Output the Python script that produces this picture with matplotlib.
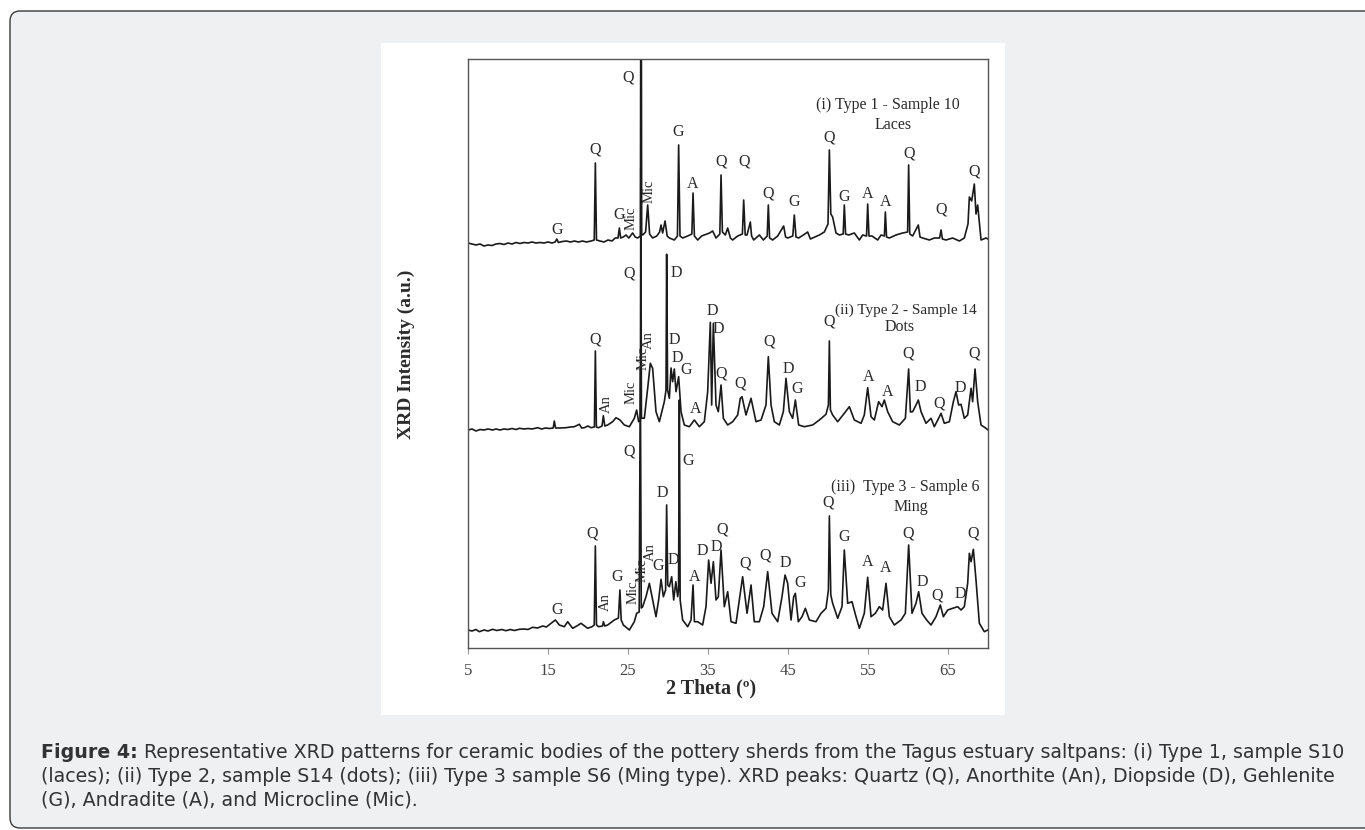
import matplotlib
matplotlib.use("Agg")
import matplotlib.pyplot as plt
from matplotlib.patches import FancyBboxPatch, Rectangle

plt.rcParams["font.family"] = ["Liberation Serif", "DejaVu Serif"]

# ---- data (2 theta in degrees, intensity in a.u. above each baseline) ----
two_theta_1 = [5.0, 5.5, 6.0, 6.5, 7.0, 7.5, 8.0, 8.5, 9.0, 9.5, 10.0, 10.5, 11.0, 11.5, 12.0, 12.5,
               13.0, 13.5, 14.0, 14.5, 15.0, 15.5, 15.9, 16.1, 16.3, 16.8, 17.3, 17.8, 18.3, 18.8,
               19.3, 19.8, 20.4, 20.78, 20.92, 21.06, 21.5, 22.0, 22.5, 23.0, 23.4, 23.75, 23.92,
               24.08, 24.4, 24.75, 25.1, 25.58, 25.9, 26.21, 26.55, 26.63, 26.71, 26.83, 27.2, 27.46,
               27.7, 28.08, 28.6, 28.95, 29.13, 29.33, 29.63, 29.9, 30.17, 30.79, 31.18, 31.33, 31.5,
               31.83, 32.46, 32.98, 33.13, 33.3, 33.71, 34.2, 34.54, 35.2, 35.58, 36.0, 36.48, 36.63,
               36.8, 37.17, 37.46, 37.8, 38.08, 38.71, 39.3, 39.46, 39.65, 39.88, 40.29, 40.45, 40.71,
               41.42, 41.92, 42.4, 42.54, 42.7, 43.08, 43.71, 44.46, 44.7, 44.96, 45.6, 45.79, 46.0,
               46.33, 46.92, 47.46, 47.8, 48.08, 48.92, 49.54, 50.0, 50.17, 50.35, 50.58, 51.0, 51.42,
               51.9, 52.04, 52.2, 52.58, 53.29, 53.92, 54.33, 54.82, 54.96, 55.12, 55.5, 56.21, 56.63,
               57.05, 57.17, 57.32, 57.67, 58.5, 59.33, 59.95, 60.08, 60.22, 60.58, 61.29, 61.5, 61.83,
               62.67, 63.29, 63.95, 64.13, 64.3, 64.75, 65.58, 66.42, 67.04, 67.5, 67.67, 67.96, 68.29,
               68.5, 68.71, 69.13, 69.75, 70.0]
intensity_1 = [1, 0, -1, 0, -2, -1, -1.5, 0, 0.5, -0.5, 1, 0, 1.5, 0.5, 1.5, 1,
               2, 1, 1.5, 1, 2, 1, 2, 5, 1.5, 2.5, 3, 2, 3, 2,
               3, 2, 3, 4, 81, 4, 3, 2, 4, 3, 6, 6, 16,
               6, 7, 9, 6, 11, 7, 6, 8, 420, 10, 9, 12, 39,
               10, 6, 8, 12, 19, 11, 23, 8, 6, 4, 8, 99, 8,
               6, 8, 10, 51, 8, 4, 8, 9, 11, 13, 6, 10, 69,
               12, 9, 16, 6, 4, 8, 10, 44, 9, 9, 22, 8, 4,
               9, 4, 8, 39, 6, 4, 8, 18, 7, 6, 8, 29, 7,
               6, 9, 12, 5, 6, 9, 12, 20, 94, 30, 27, 11, 9,
               10, 39, 10, 9, 11, 4, 9, 8, 40, 8, 8, 4, 9,
               8, 32, 7, 6, 9, 11, 12, 79, 10, 8, 19, 7, 6,
               4, 6, 6, 14, 5, 4, 6, 3, 6, 20, 47, 43, 60,
               30, 39, 4, 6, 5]

two_theta_2 = [5.0, 5.5, 6.0, 6.5, 7.0, 7.5, 8.08, 8.5, 9.0, 9.5, 10.0, 10.5, 11.0, 11.42, 12.0, 12.5,
               13.0, 13.71, 14.2, 14.7, 15.2, 15.65, 15.79, 15.95, 16.5, 17.25, 17.8, 18.29, 18.92,
               19.2, 19.54, 20.0, 20.38, 20.8, 20.92, 21.05, 21.33, 21.75, 21.92, 22.1, 22.46, 23.08,
               23.5, 24.0, 24.54, 25.17, 25.79, 26.08, 26.33, 26.55, 26.6, 26.68, 27.04, 27.46, 27.79,
               28.08, 28.5, 28.92, 29.54, 29.75, 29.83, 29.95, 30.17, 30.38, 30.58, 30.79, 31.0, 31.33,
               31.63, 32.04, 32.67, 33.29, 33.92, 34.54, 34.96, 35.29, 35.46, 35.67, 36.0, 36.29, 36.63,
               36.92, 37.46, 38.08, 38.71, 39.04, 39.25, 39.75, 40.38, 41.0, 41.63, 42.25, 42.54, 42.88,
               43.29, 43.92, 44.42, 44.75, 45.17, 45.58, 45.92, 46.33, 47.04, 48.08, 48.92, 49.75, 50.05,
               50.17, 50.3, 50.58, 51.21, 52.04, 52.67, 53.29, 54.13, 54.54, 54.96, 55.38, 55.79, 56.33,
               56.75, 57.04, 57.46, 58.08, 58.92, 59.67, 60.08, 60.3, 60.58, 61.0, 61.29, 61.63, 62.25,
               62.88, 63.29, 63.83, 64.13, 64.54, 65.17, 65.67, 66.0, 66.33, 66.63, 67.04, 67.46, 67.88,
               68.08, 68.38, 68.71, 69.13, 69.75, 70.0]
intensity_2 = [0, 1, -1, 0.5, 0, 1, 0, 1, 0, 1, 0.5, 1.5, 0.5, 1.7, 1, 1.5,
               1, 2.3, 1, 2, 1.5, 2, 9, 2, 2, 2.3, 3, 3.3, 5.7,
               2, 2.3, 4, 2.3, 3, 79, 3, 2.3, 4, 14.3, 4, 5, 8.3,
               12.3, 10, 5, 3.3, 11.7, 20, 8.3, 10, 262, 12, 11.7, 41.7, 66.7,
               61.7, 18.3, 8.3, 28.3, 40, 175.7, 40, 31.7, 62, 48.3, 61, 38.3, 53.3,
               18.3, 5, 3.3, 10, 3.3, 8.3, 38.3, 107.7, 25, 106.7, 25, 18.3, 45,
               11.7, 5, 8.3, 15, 31.7, 33.3, 15, 31.7, 8.3, 10, 25, 73.3, 25,
               8.3, 5, 18.3, 51.7, 18.3, 11.7, 30, 5, 3.3, 5, 10, 15.7, 25,
               89, 20, 15, 8.3, 16.7, 23.3, 10, 6.7, 15, 42.3, 13.3, 10, 28.3,
               23.3, 30, 18.3, 8.3, 5, 11.7, 61, 18, 18.3, 25, 30, 18.3, 6.7,
               11.7, 3.3, 11.7, 16.7, 6.7, 8.3, 28.3, 38.3, 25, 25.7, 11.7, 15, 41.7,
               28.3, 61, 28.3, 5, 1.7, 0]

two_theta_3 = [5.0, 5.5, 6.0, 6.42, 7.0, 7.5, 8.08, 8.6, 9.2, 9.75, 10.3, 10.8, 11.42, 12.0, 12.5,
               13.08, 13.7, 14.33, 14.8, 15.38, 15.92, 16.42, 17.04, 17.46, 18.08, 18.6, 19.13, 19.96,
               20.5, 20.78, 20.92, 21.06, 21.33, 21.82, 21.92, 22.1, 22.46, 23.29, 23.8, 23.99, 24.15,
               24.42, 25.17, 25.79, 26.08, 26.4, 26.54, 26.66, 26.83, 27.25, 27.67, 28.08, 28.5, 28.83,
               29.13, 29.42, 29.7, 29.83, 29.97, 30.17, 30.46, 30.71, 30.98, 31.21, 31.32, 31.42, 31.52,
               31.83, 32.46, 32.88, 33.13, 33.3, 33.71, 34.33, 34.75, 35.08, 35.38, 35.67, 36.0, 36.29,
               36.63, 37.04, 37.46, 37.88, 38.5, 38.92, 39.33, 39.88, 40.38, 40.79, 41.42, 41.96, 42.46,
               43.0, 43.71, 44.25, 44.63, 44.96, 45.38, 45.71, 45.92, 46.29, 46.75, 47.17, 47.67, 48.5,
               49.13, 49.75, 50.05, 50.17, 50.35, 50.58, 51.21, 51.75, 52.04, 52.46, 53.0, 53.5, 53.92,
               54.54, 54.96, 55.38, 55.92, 56.42, 56.83, 57.25, 57.67, 58.29, 59.13, 59.67, 60.08, 60.5,
               61.0, 61.33, 61.75, 62.33, 62.88, 63.5, 64.04, 64.42, 64.96, 65.58, 66.21, 66.63, 67.04,
               67.46, 67.67, 67.88, 68.17, 68.5, 68.92, 69.54, 69.96, 70.0]
intensity_3 = [0, -1, 0.5, -1.7, 0, -1, 0.7, -0.5, 0.5, -0.7, 0.5, -0.5, 0.7, 1, 0.5,
               2.7, 2, 4, 3, 6.7, 10, 5, 3.3, 8.3, 1.7, 4, 6.7, 1.7,
               3.3, 5, 84, 5, 3.3, 4, 8.3, 4, 5, 10, 12, 40, 10,
               5, 0, 8.3, 16.7, 18, 262, 22, 23.3, 33.3, 46.7, 30, 13.3, 30,
               50.7, 33.3, 40, 125, 45, 43.3, 53.3, 30, 48.3, 33.3, 40, 230, 30,
               10, 3.3, 10, 45, 8.3, 8.3, 5, 23.3, 70, 46.7, 68.3, 30, 33.3,
               80, 23.3, 38.3, 8.3, 6.7, 30, 53.3, 16.7, 45, 8.3, 8.3, 23.3, 58.3,
               16.7, 8.3, 33.3, 55, 46.7, 10, 33.3, 36.7, 8.3, 13.3, 21.7, 10, 8.3,
               16.7, 21.7, 40, 114, 35, 26.7, 11.7, 23.3, 80, 26.7, 28.3, 13.3, 1.7,
               16.7, 52.7, 13.3, 16.7, 23.3, 20, 46.7, 13.3, 5, 10, 16.7, 85, 16.7,
               26.7, 38.3, 16.7, 10, 5, 13.3, 25, 13.3, 20, 21.7, 23.3, 20, 23.3,
               46.7, 76.7, 68.3, 80.7, 50, 6.7, -1.7, 0, 0]

# phase labels: name, 2 theta position, height above baseline
peaks_1 = ["G", "Q", "G", "Mic", "Q", "Mic", "G", "A", "Q", "Q", "Q", "G", "Q", "G", "A", "A", "Q", "Q", "Q"]
peak_x_1 = [16.1, 20.9, 23.9, 25.4, 25.0, 27.6, 31.3, 33.1, 36.6, 39.5, 42.5, 45.8, 50.1, 52.0, 55.0, 57.2, 60.1, 64.1, 68.3]
peak_h_1 = [14, 94, 29, 26, 166, 53, 112, 60, 83, 82, 51, 42, 107, 47, 50, 42, 90, 34, 73]

peaks_2 = ["Q", "An", "Mic", "Q", "Mic", "An", "D", "D", "D", "G", "A", "D", "D", "Q", "Q", "Q",
           "D", "G", "Q", "A", "A", "Q", "D", "Q", "D", "Q"]
peak_x_2 = [20.9, 22.25, 25.4, 25.1, 26.9, 27.6, 31.1, 30.8, 31.2, 32.25, 33.4, 35.5, 36.3, 36.6, 39.0, 42.6,
            45.1, 46.2, 50.1, 55.1, 57.5, 60.0, 61.5, 63.9, 66.5, 68.3]
peak_h_2 = [91, 26, 38, 157, 72, 90, 157, 90, 72, 60, 21, 119, 101, 57, 47, 88,
            61, 41, 109, 53, 38, 77, 43, 27, 42, 77]

peaks_3 = ["G", "Q", "An", "G", "Mic", "Q", "Mic", "An", "G", "D", "D", "G", "A", "D", "D", "Q",
           "Q", "Q", "D", "G", "Q", "G", "A", "A", "Q", "D", "Q", "D", "Q"]
peak_x_3 = [16.2, 20.5, 22.2, 23.7, 25.6, 25.2, 26.8, 27.8, 28.8, 29.3, 30.7, 32.5, 33.3, 34.3, 36.0, 36.8,
            39.6, 42.2, 44.7, 46.5, 50.0, 52.0, 54.9, 57.25, 60.0, 61.75, 63.6, 66.5, 68.1]
peak_h_3 = [20, 97, 28, 53, 38, 178, 60, 78, 64, 137, 70, 169, 53, 79, 83, 101,
            67, 75, 67, 47, 128, 93, 68, 62, 97, 48, 34, 36, 97]

sample_titles = ["(i) Type 1 - Sample 10", "(ii) Type 2 - Sample 14", "(iii)  Type 3 - Sample 6"]
sample_names = ["Laces", "Dots", "Ming"]
title_x = [48.5, 50.9, 50.4]
title_h = [139, 120, 143]
title_size = [11.5, 11.0, 11.5]
name_x = [58.1, 58.9, 60.4]
name_h = [119, 103, 123]

offsets = [404, 218, 18]
x_ticks = [5, 15, 25, 35, 45, 55, 65]

caption_lines = [
    " Representative XRD patterns for ceramic bodies of the pottery sherds from the Tagus estuary saltpans: (i) Type 1, sample S10",
    "(laces); (ii) Type 2, sample S14 (dots); (iii) Type 3 sample S6 (Ming type). XRD peaks: Quartz (Q), Anorthite (An), Diopside (D), Gehlenite",
    "(G), Andradite (A), and Microcline (Mic).",
]

ink = "#1a1a1a"
txt = "#2a2a2a"

fig = plt.figure(figsize=(13.65, 8.3), dpi=100)
fig.patch.set_facecolor("white")

# page background, card and white picture area (pixel coordinates)
bg = fig.add_axes([0, 0, 1, 1])
bg.set_xlim(0, 1365)
bg.set_ylim(830, 0)
bg.axis("off")
bg.add_patch(FancyBboxPatch((10, 11), 1400, 817, boxstyle="round,pad=0,rounding_size=10",
                            fc="#eff0f2", ec="#3a3a3a", lw=1.0))
bg.add_patch(Rectangle((381, 43), 624, 672, fc="white", ec="none"))

bg.text(406, 354, "XRD Intensity (a.u.)", rotation=90, ha="center", va="center",
        fontsize=14, fontweight="bold", color=txt)
bg.text(711, 688, "2 Theta (º)", ha="center", va="center", fontsize=14.5, fontweight="bold", color=txt)

# caption
cap_font = ["DejaVu Sans"]
cap_size = 13.7
head = bg.text(41, 758, "Figure 4:", fontsize=cap_size, fontweight="bold", family=cap_font,
               color="#333333", va="baseline", ha="left")
bg.annotate(caption_lines[0], xy=(1, 0), xycoords=head, va="bottom", ha="left",
            fontsize=cap_size, family=cap_font, color="#333333")
bg.text(41, 781.5, caption_lines[1], fontsize=cap_size, family=cap_font, color="#333333", va="baseline")
bg.text(41, 805, caption_lines[2], fontsize=cap_size, family=cap_font, color="#333333", va="baseline")

# chart
ax = fig.add_axes([468 / 1365, 1 - 648 / 830, 520 / 1365, 589 / 830])
ax.set_facecolor("none")
ax.set_xlim(5, 70)
ax.set_ylim(0, 589)

series = [(two_theta_1, intensity_1), (two_theta_2, intensity_2), (two_theta_3, intensity_3)]
labels = [(peaks_1, peak_x_1, peak_h_1), (peaks_2, peak_x_2, peak_h_2), (peaks_3, peak_x_3, peak_h_3)]

for i, ((tt, inten), (names, px, ph)) in enumerate(zip(series, labels)):
    off = offsets[i]
    ax.plot(tt, [v + off for v in inten], color=ink, lw=1.2)
    for name, x, h in zip(names, px, ph):
        if len(name) > 1:
            ax.text(x, h + off, name, rotation=90, ha="center", va="center", fontsize=10.5, color=txt)
        else:
            ax.text(x, h + off, name, ha="center", va="center", fontsize=11.5, color=txt)
    ax.text(title_x[i], title_h[i] + off, sample_titles[i], ha="left", va="center",
            fontsize=title_size[i], color=txt, clip_on=True)
    ax.text(name_x[i], name_h[i] + off, sample_names[i], ha="center", va="center",
            fontsize=11.5, color=txt)

ax.set_xticks(x_ticks)
ax.set_yticks([])
ax.tick_params(axis="x", direction="out", length=4, width=0.8, color="#999999",
               labelsize=12, labelcolor="#444444", pad=7)
for sp in ax.spines.values():
    sp.set_color("#555555")
    sp.set_linewidth(1.0)

fig.savefig("out.png", dpi=100, facecolor=fig.get_facecolor())
